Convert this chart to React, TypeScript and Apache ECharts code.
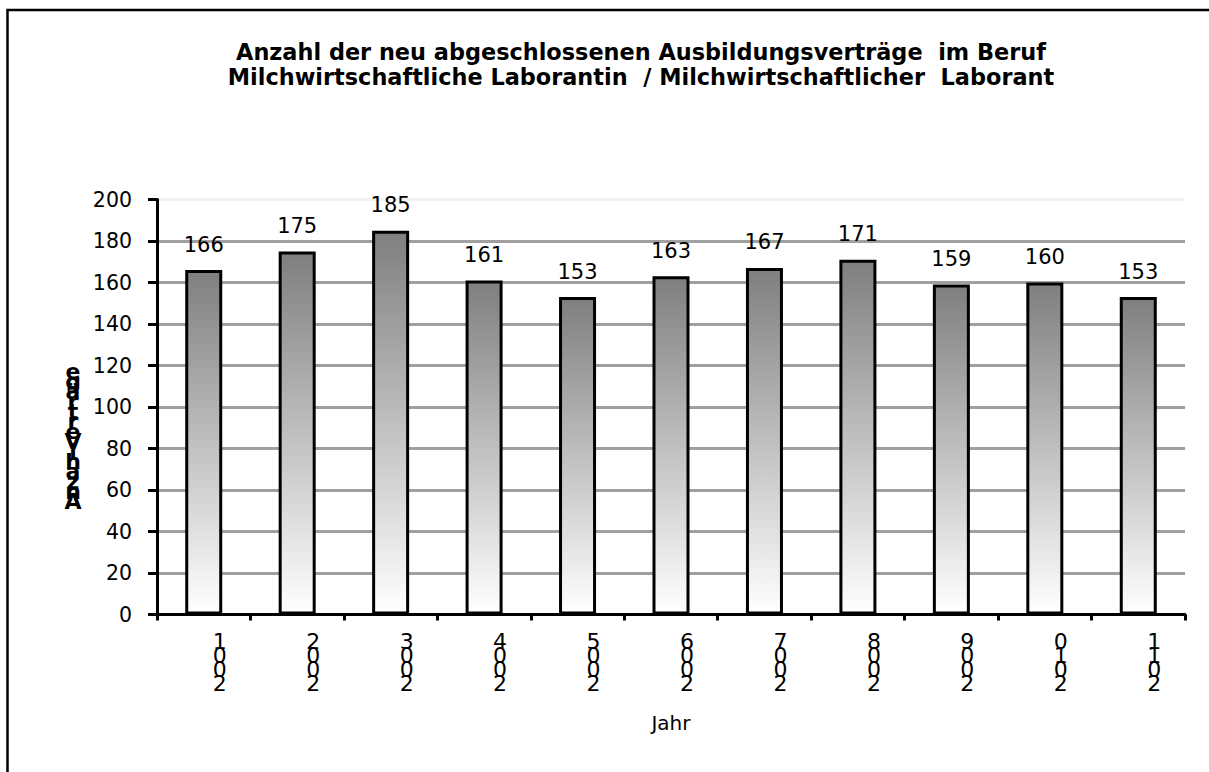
import React, { useEffect, useRef } from "react";
import * as echarts from "echarts";

const years = ["2001", "2002", "2003", "2004", "2005", "2006", "2007", "2008", "2009", "2010", "2011"];
const contracts = [166, 175, 185, 161, 153, 163, 167, 171, 159, 160, 153];
const titleLines = [
  "Anzahl der neu abgeschlossenen Ausbildungsverträge  im Beruf",
  "Milchwirtschaftliche Laborantin  / Milchwirtschaftlicher  Laborant",
];
const yAxisName = "Anzahl Verträge";
const xAxisName = "Jahr";

const FONT = "DejaVu Sans";

export default function App() {
  const ref = useRef<HTMLDivElement>(null);
  useEffect(() => {
    if (!ref.current) return;
    const chart = echarts.init(ref.current, null, { renderer: "svg" });
    const stackedYName = yAxisName.replace(/ /g, "").split("").reverse().join("\n");
    chart.setOption({
      animation: false,
      backgroundColor: "#ffffff",
      title: {
        text: titleLines.join("\n"),
        left: 641,
        top: 39,
        textAlign: "center",
        padding: 0,
        textStyle: {
          fontFamily: FONT,
          fontWeight: "bold",
          fontSize: 22.4,
          lineHeight: 25,
          color: "#000",
        },
      },
      grid: { left: 157, right: 24, top: 199.5, bottom: 157.5, containLabel: false },
      xAxis: {
        type: "category",
        data: years,
        name: xAxisName,
        nameLocation: "middle",
        nameGap: 98,
        nameTextStyle: { fontFamily: FONT, fontSize: 20, color: "#000" },
        axisLine: { show: true, lineStyle: { color: "#000", width: 3 } },
        axisTick: { show: true, length: 6, lineStyle: { color: "#000", width: 3 } },
        axisLabel: {
          interval: 0,
          margin: 20,
          fontFamily: FONT,
          fontSize: 22,
          lineHeight: 14,
          color: "#000",
          align: "center",
          padding: [0, 0, 0, 32],
          formatter: (v: string) => v.split("").reverse().join("\n"),
        },
      },
      yAxis: {
        type: "value",
        min: 0,
        max: 200,
        interval: 20,
        axisLine: { show: true, lineStyle: { color: "#000", width: 3 } },
        axisTick: { show: true, length: 9, lineStyle: { color: "#000", width: 3 } },
        axisLabel: { fontFamily: FONT, fontSize: 20.5, color: "#000", margin: 25 },
        splitLine: {
          show: true,
          lineStyle: {
            width: 3,
            color: ["#a0a0a0", "#a0a0a0", "#a0a0a0", "#a0a0a0", "#a0a0a0", "#a0a0a0", "#a0a0a0", "#a0a0a0", "#a0a0a0", "#a0a0a0", "#f2f2f2"],
          },
        },
      },
      series: [
        {
          type: "bar",
          data: contracts,
          barWidth: 37,
          itemStyle: {
            color: new echarts.graphic.LinearGradient(0, 0, 0, 1, [
              { offset: 0, color: "#7f7f7f" },
              { offset: 1, color: "#ffffff" },
            ]),
            borderColor: "#000",
            borderWidth: 3,
          },
          label: {
            show: true,
            position: "top",
            distance: 15,
            fontFamily: FONT,
            fontSize: 21,
            color: "#000",
          },
        },
      ],
      graphic: [
        {
          type: "rect",
          shape: { x: 7.5, y: 10, width: 1400, height: 1000 },
          style: { fill: "none", stroke: "#000", lineWidth: 2.5 },
          silent: true,
          z: -1,
        },
        {
          type: "text",
          x: 73,
          y: 436,
          style: {
            text: stackedYName,
            font: `bold 22px "${FONT}"`,
            lineHeight: 10,
            textAlign: "center",
            textVerticalAlign: "middle",
            fill: "#000",
          },
        },
      ],
    });
    return () => chart.dispose();
  }, []);
  return <div ref={ref} style={{ position: "fixed", left: 0, top: 0, width: 1209, height: 772 }} />;
}
